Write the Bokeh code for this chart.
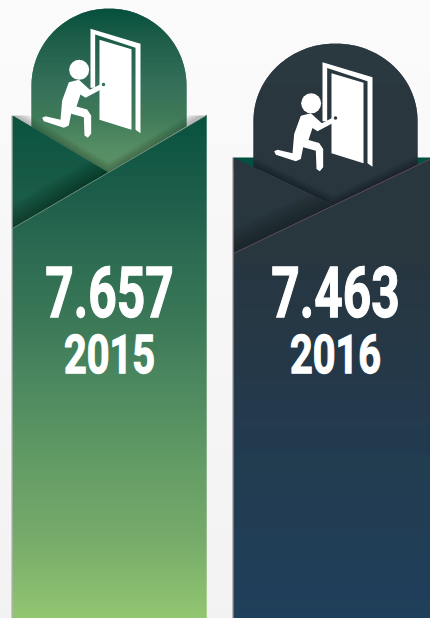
from bokeh.plotting import figure
from bokeh.models import Range1d, ColumnDataSource
from bokeh.core.properties import value
from bokeh.embed import file_html
from bokeh.resources import INLINE
import math

years = ["2015", "2016"]
values = [7.657, 7.463]

FONT = "Roboto"
PANELS = [
    dict(x0=12, x1=206, top=115, apex=(108, 172), low=228,
         arch=(31, 186, 8, 85),
         arch_stops=[(8, "#06503e"), (40, "#1f5f4a"), (85, "#35705a"), (115, "#3f7a59"), (150, "#578e64"), (172, "#5c9066")],
         bar_stops=[(115, "#08523f"), (200, "#1e5f4b"), (250, "#2c6b52"), (320, "#3b7858"), (390, "#4f8a60"), (470, "#659d66"), (540, "#77ab6b"), (618, "#92c671")],
         flap_stops=[(115, "#0b5340"), (172, "#165a46"), (228, "#1f5f4a")],
         border="#a0a0a0", seam="#6d8a78", icon=(0, 0), back=None, bg_shadow=0.32, in_shadow=0.22, flap_shadow=0.36),
    dict(x0=233, x1=437, top=157, apex=(333, 205), low=253,
         arch=(253, 417, 43, 120),
         arch_stops=[(43, "#2b3840"), (205, "#2a363e")],
         bar_stops=[(157, "#29363e"), (250, "#28363f"), (400, "#243a4c"), (618, "#20405c")],
         flap_stops=[(157, "#2a373f"), (253, "#29363e")],
         border="#857a80", seam="#5d4c52", icon=(232, 33.5), back="#02503f", bg_shadow=0.0, in_shadow=0.3, flap_shadow=0.3),
]

FRAME = [(270,85),(420,130),(420,398),(405,388),(405,142),(284,102),(284,262),(270,262)]
DOOR = [(297,118),(393,146),(393,388),(297,358)]
PERSON = [(205,245),(235,238),(268,268),(300,251),(308,258),(303,266),(255,292),(240,282),(228,318),(260,327),(272,345),
          (272,400),(262,412),(252,405),(250,350),(212,340),(205,375),(190,382),(130,362),(125,352),(135,347),(180,358),(185,300)]

p = figure(width=430, height=618, x_range=Range1d(0, 430), y_range=Range1d(618, 0),
           toolbar_location=None, output_backend="svg", min_border=0,
           background_fill_color=None, border_fill_color=None, outline_line_color=None)
p.axis.visible = False
p.grid.visible = False


def mix(stops, y):
    if y <= stops[0][0]:
        c = stops[0][1]
        return tuple(int(c[i:i+2], 16) for i in (1, 3, 5))
    for (a, ca), (b, cb) in zip(stops, stops[1:]):
        if y <= b:
            t = (y - a) / (b - a)
            A = [int(ca[i:i+2], 16) for i in (1, 3, 5)]
            B = [int(cb[i:i+2], 16) for i in (1, 3, 5)]
            return tuple(round(u + (v - u) * t) for u, v in zip(A, B))
    c = stops[-1][1]
    return tuple(int(c[i:i+2], 16) for i in (1, 3, 5))


def clip(poly, y0, y1):
    def half(pts, lim, keep_above):
        out = []
        for i, (ax, ay) in enumerate(pts):
            bx, by = pts[(i + 1) % len(pts)]
            ina = ay >= lim if keep_above else ay <= lim
            inb = by >= lim if keep_above else by <= lim
            if ina:
                out.append((ax, ay))
            if ina != inb:
                t = (lim - ay) / (by - ay)
                out.append((ax + (bx - ax) * t, lim))
        return out
    return half(half(poly, y0, True), y1, False)


def gradient(poly, stops):
    ys = [q[1] for q in poly]
    xs_, ys_, cs = [], [], []
    for y in range(math.floor(min(ys)), math.ceil(max(ys))):
        s = clip(poly, y, y + 2)  # rows overlap so no seam shows through
        if len(s) >= 3:
            xs_.append([q[0] for q in s])
            ys_.append([q[1] for q in s])
            cs.append("#%02x%02x%02x" % mix(stops, y + 0.5))
    p.patches("x", "y", fill_color="c", line_color=None,
              source=ColumnDataSource(dict(x=xs_, y=ys_, c=cs)))


def band(f, lim, xa, xb, depth, alpha, color="#000000", n=10):
    """Soft shadow lying above the line y=f(x), limited by y=lim(x)."""
    steps = max(2, int(abs(xb - xa) / 2))
    sx = [xa + (xb - xa) * i / steps for i in range(steps + 1)]
    for k in range(1, n + 1):
        d = depth * k / n
        up = [(x, max(f(x) - d, lim(x))) for x in sx]
        lo = [(x, f(x)) for x in reversed(sx)]
        p.patch([q[0] for q in up + lo], [q[1] for q in up + lo],
                fill_color=color, fill_alpha=alpha / n, line_color=None)


def line_fn(a, b):
    return lambda x: a[1] + (b[1] - a[1]) * (x - a[0]) / (b[0] - a[0])


for idx, P in enumerate(PANELS):
    x0, x1, top, low = P["x0"], P["x1"], P["top"], P["low"]
    ax, ay = P["apex"]
    a0, a1, atop, acy = P["arch"]
    L = line_fn((x0, top), (ax, ay))
    R = line_fn((x0, low), (ax, ay))
    V_R = line_fn((ax, ay), (2 * ax - x0, top))
    floor_y = 618

    if P["back"]:
        p.quad(left=x0, right=x1, top=top, bottom=top + 12, fill_color=P["back"], line_color=None)
    if P["bg_shadow"]:
        flat = lambda x, t=top: t
        band(L, flat, x0, a0, 11, P["bg_shadow"])
        band(V_R, flat, a1, x1, 11, P["bg_shadow"])

    # arch
    r = (a1 - a0) / 2
    cx = (a0 + a1) / 2
    ry = acy - atop
    arc = [(cx + r * math.cos(math.pi * (1 + i / 60)), acy + ry * math.sin(math.pi * (1 + i / 60))) for i in range(61)]
    arch_poly = arc + [(a1, V_R(a1)), (ax, ay), (a0, L(a0))]
    gradient(arch_poly, P["arch_stops"])
    no_lim = lambda x: -100
    band(L, no_lim, a0, ax, 10, P["in_shadow"])
    band(V_R, no_lim, ax, a1, 10, P["in_shadow"])

    # back flap
    gradient([(x0, top), (ax, ay), (x0, low)], P["flap_stops"])
    band(R, L, x0, ax, 24, P["flap_shadow"], n=15)

    # front flap and bar
    end_y = R(x1)
    gradient([(x0, low), (x1, end_y), (x1, floor_y), (x0, floor_y)], P["bar_stops"])
    p.line([x0, min(x1, 432)], [low, R(min(x1, 432))], line_color=P["seam"], line_width=1)
    p.line([x0 - 0.5, x0 - 0.5], [top, floor_y], line_color=P["border"], line_width=1)

    # icon
    ox, oy = P["icon"]
    for shape in (FRAME, DOOR, PERSON):
        p.patch([q[0] / 3 + ox for q in shape], [q[1] / 3 + oy for q in shape],
                fill_color="#ffffff", line_color=None)
    p.scatter([236 / 3 + ox], [208 / 3 + oy], size=20, marker="circle", fill_color="#ffffff", line_color=None)
    knob = mix(P["arch_stops"], 80)
    p.scatter([309 / 3 + ox], [252 / 3 + oy], size=3.5, marker="circle",
              fill_color="#%02x%02x%02x" % knob, line_color=None)

    tx = [109, 335][idx]
    p.text([tx], [291.5], text=[f"{values[idx]:.3f}"], text_font=value(FONT), text_font_style="bold",
           text_font_size="71px", text_color="#ffffff", text_align="center", text_baseline="alphabetic")
    p.text([tx], [353.5], text=[years[idx]], text_font=value(FONT), text_font_style="bold",
           text_font_size="54px", text_color="#ffffff", text_align="center", text_baseline="alphabetic")

html = file_html(p, INLINE)
css = "<style>html{background:linear-gradient(#fbfbfb,#f2f2f2);height:100%;overflow:hidden}body{background:transparent;overflow:hidden}</style>"
script = """<script>
(function(){
  function walk(root,out){root.querySelectorAll('*').forEach(function(e){
    if(e.tagName==='text')out.push(e); if(e.shadowRoot)walk(e.shadowRoot,out);});return out;}
  function fix(){walk(document,[]).forEach(function(t){
    if(t.dataset.sq)return; var s=t.textContent.length>4?0.70:0.735;
    var b=t.getBBox(), c=b.x+b.width/2, m=t.getAttribute('transform')||'';
    t.setAttribute('transform',m+' translate('+c+',0) scale('+s+',1) translate('+(-c)+',0)');
    t.setAttribute('stroke','#ffffff'); t.setAttribute('stroke-width','1.3');
    t.dataset.sq='1';});}
  setInterval(fix,30);
})();
</script>"""
html = html.replace("</head>", css + script + "</head>", 1)
open("out.html", "w").write(html)
